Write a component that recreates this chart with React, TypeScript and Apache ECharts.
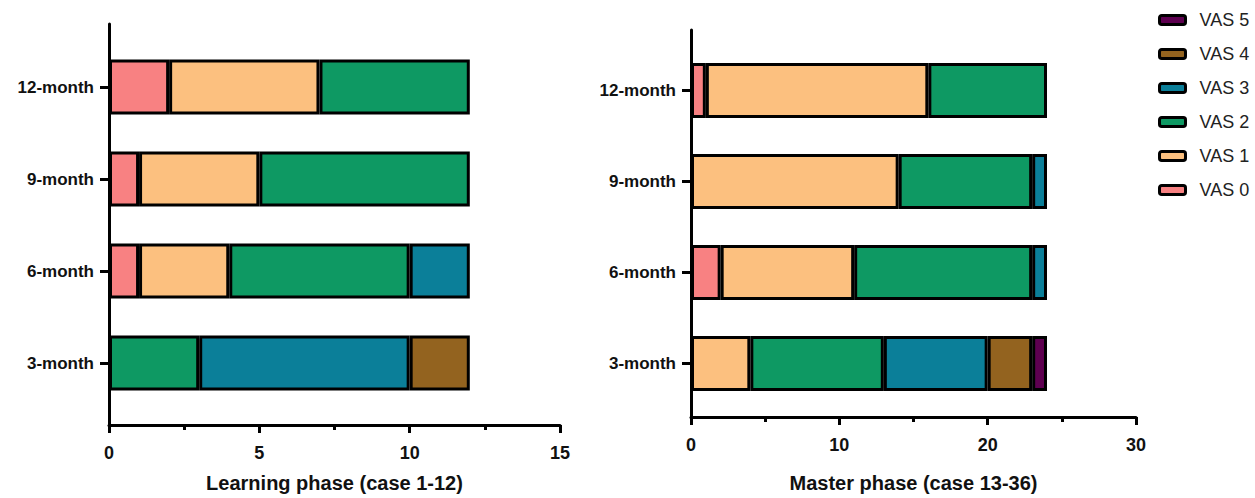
import React, { useEffect, useRef } from "react";
import * as echarts from "echarts";

const categories = ["3-month", "6-month", "9-month", "12-month"];
const vasNames = ["VAS 0", "VAS 1", "VAS 2", "VAS 3", "VAS 4", "VAS 5"];
const vasColors = ["#F88182", "#FCC07F", "#0E9963", "#0B7F99", "#93631F", "#5E0050"];

// Learning phase (case 1-12)
const learnVas0 = [0, 1, 1, 2];
const learnVas1 = [0, 3, 4, 5];
const learnVas2 = [3, 6, 7, 5];
const learnVas3 = [7, 2, 0, 0];
const learnVas4 = [2, 0, 0, 0];
const learnVas5 = [0, 0, 0, 0];

// Master phase (case 13-36)
const masterVas0 = [0, 2, 0, 1];
const masterVas1 = [4, 9, 14, 15];
const masterVas2 = [9, 12, 9, 8];
const masterVas3 = [7, 1, 1, 0];
const masterVas4 = [3, 0, 0, 0];
const masterVas5 = [1, 0, 0, 0];

const learnTicks = { min: 0, max: 15, interval: 5 };
const masterTicks = { min: 0, max: 30, interval: 10 };

const learnTitle = "Learning phase (case 1-12)";
const masterTitle = "Master phase (case 13-36)";

const FONT = "'Liberation Sans', Arial, Helvetica, sans-serif";

export default function App() {
  const ref = useRef<HTMLDivElement>(null);

  useEffect(() => {
    if (!ref.current) return;
    const chart = echarts.init(ref.current, null, { renderer: "svg" });

    const learn = [learnVas0, learnVas1, learnVas2, learnVas3, learnVas4, learnVas5];
    const master = [masterVas0, masterVas1, masterVas2, masterVas3, masterVas4, masterVas5];

    const clean = (arr: number[]) => arr.map((v) => (v === 0 ? "-" : v));

    const makeSeries = (sets: number[][], axisIdx: number, stack: string) =>
      sets.map((d, i) => ({
        name: vasNames[i],
        type: "bar",
        stack,
        xAxisIndex: axisIdx,
        yAxisIndex: axisIdx,
        barWidth: 55,
        data: clean(d),
        itemStyle: { color: vasColors[i], borderColor: "#000", borderWidth: 3 },
        emphasis: { disabled: true },
      }));

    const axisGridX = (t: any, name: string, nameGap: number, gridIndex: number) => ({
      type: "value",
      gridIndex,
      min: t.min,
      max: t.max,
      interval: t.interval,
      name,
      nameLocation: "middle",
      nameGap,
      nameTextStyle: { fontFamily: FONT, fontWeight: "bold", fontSize: 20, color: "#111", verticalAlign: "top" },
      axisLine: { show: true, lineStyle: { color: "#000", width: 3 } },
      axisTick: { show: true, length: 8, lineStyle: { color: "#000", width: 3 } },
      minorTick: { show: true, splitNumber: 2, length: 5, lineStyle: { color: "#000", width: 3 } },
      splitLine: { show: false },
      axisLabel: { fontFamily: FONT, fontWeight: "bold", fontSize: 18, color: "#111", margin: 19 },
    });

    const axisGridY = (gridIndex: number) => ({
      type: "value",
      gridIndex,
      min: 0,
      max: 1,
      axisLine: { show: true, lineStyle: { color: "#000", width: 3 } },
      axisTick: { show: false },
      axisLabel: { show: false },
      splitLine: { show: false },
    });

    const barGridX = (t: any, gridIndex: number) => ({
      type: "value",
      gridIndex,
      min: t.min,
      max: t.max,
      interval: t.interval,
      show: false,
    });

    const barGridY = (gridIndex: number) => ({
      type: "category",
      gridIndex,
      data: categories,
      axisLine: { show: false },
      axisTick: { show: true, alignWithLabel: true, length: 9, lineStyle: { color: "#000", width: 3 } },
      axisLabel: { fontFamily: FONT, fontWeight: "bold", fontSize: 17, color: "#111", margin: 15 },
      splitLine: { show: false },
    });

    chart.setOption({
      animation: false,
      backgroundColor: "#fff",
      grid: [
        { left: 109, width: 451, top: 24, height: 401 },
        { left: 109, width: 451, top: 41, height: 368 },
        { left: 691, width: 445, top: 30, height: 395 },
        { left: 691, width: 445, top: 45, height: 364 },
      ],
      xAxis: [
        axisGridX(learnTicks, learnTitle, 48, 0),
        barGridX(learnTicks, 1),
        axisGridX(masterTicks, masterTitle, 56, 2),
        barGridX(masterTicks, 3),
      ],
      yAxis: [axisGridY(0), barGridY(1), axisGridY(2), barGridY(3)],
      legend: {
        orient: "vertical",
        left: 1153,
        top: 6,
        itemWidth: 26,
        itemHeight: 9,
        itemGap: 16,
        data: [...vasNames].reverse(),
        selectedMode: false,
        itemStyle: { borderColor: "#000", borderWidth: 3 },
        textStyle: { fontFamily: FONT, fontSize: 18, color: "#222", padding: [0, 0, 0, 9] },
      },
      series: [...makeSeries(learn, 1, "learn"), ...makeSeries(master, 3, "master")],
    });

    return () => chart.dispose();
  }, []);

  return (
    <div
      ref={ref}
      style={{ position: "absolute", left: 0, top: 0, width: 1255, height: 498 }}
    />
  );
}
